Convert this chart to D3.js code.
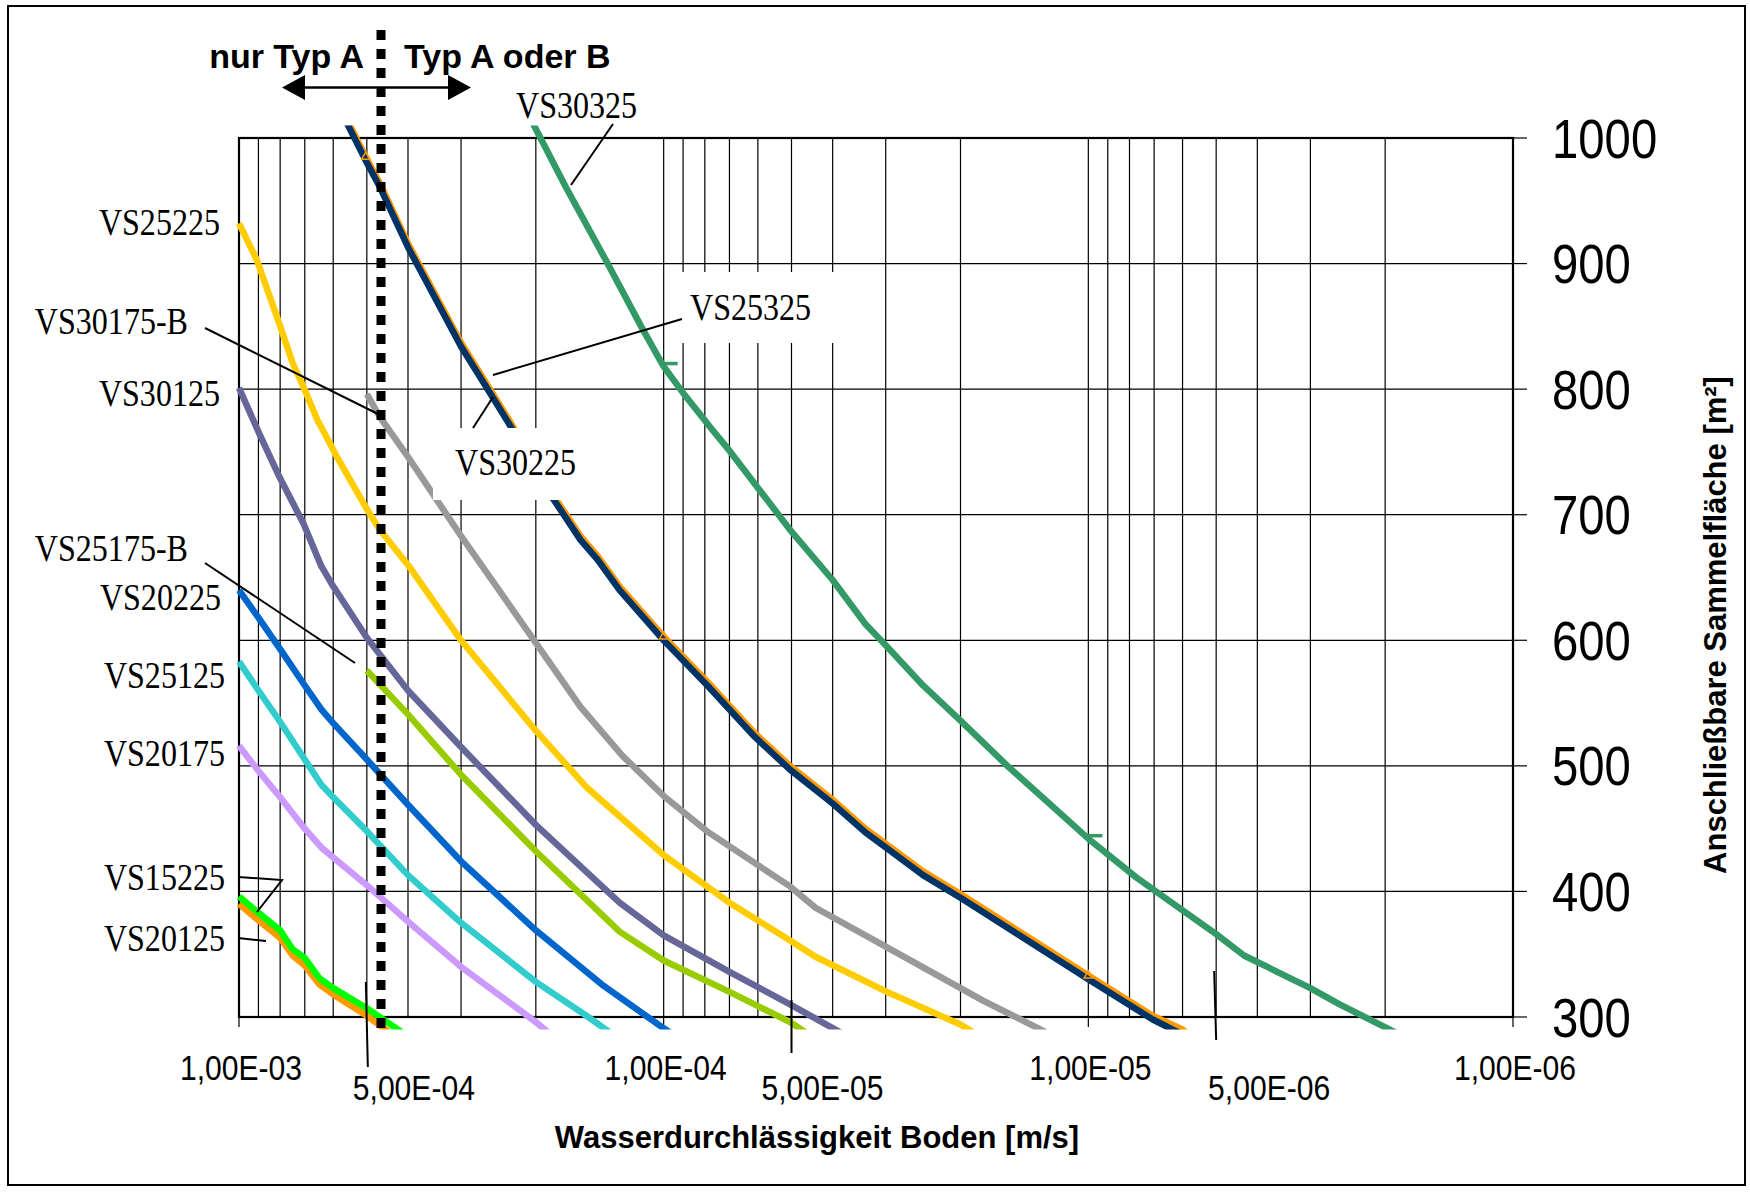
<!DOCTYPE html>
<html><head><meta charset="utf-8">
<script src="https://cdn.jsdelivr.net/npm/d3@7"></script>
<style>html,body{margin:0;padding:0;background:#fff;} svg{display:block;}</style>
</head><body>
<svg id="chart" width="1750" height="1192"></svg>
<script>
// ---------------- DATA ----------------
const xMajorTicks = [1e-3, 1e-4, 1e-5, 1e-6];
const xMajorLabels = ["1,00E-03", "1,00E-04", "1,00E-05", "1,00E-06"];
const xHalfTicks = [5e-4, 5e-5, 5e-6];
const xHalfLabels = ["5,00E-04", "5,00E-05", "5,00E-06"];
const yTicks = [300, 400, 500, 600, 700, 800, 900, 1000];
const yTickLabels = ["300", "400", "500", "600", "700", "800", "900", "1000"];
const boundaryK = 4.63e-4;   // Typ A / Typ B boundary

// [k (m/s), area (m²)]
const VS15225 = [[1e-3,396],[9e-4,383],[8e-4,369],[7.48e-4,354],[7e-4,347],[6.47e-4,331],[6e-4,323],[5e-4,307],[4.1e-4,287]];
const VS20125 = [[1e-3,390],[9e-4,377],[8e-4,363],[7.48e-4,349],[7e-4,341],[6.47e-4,326],[6e-4,318],[5e-4,301],[4.4e-4,287]];
const VS20175 = [[1e-3,516],[9e-4,496],[8e-4,475],[7e-4,450],[6.4e-4,435],[6e-4,427],[5e-4,405],[4e-4,376],[3e-4,340],[2e-4,296],[1.86e-4,287]];
const VS25125 = [[1e-3,583],[9e-4,560],[8e-4,535],[7e-4,505],[6.4e-4,485],[6e-4,475],[5e-4,448],[4e-4,413],[3e-4,375],[2e-4,328],[1.52e-4,301],[1.33e-4,287]];
const VS20225 = [[1e-3,640],[9e-4,618],[8e-4,593],[7e-4,564],[6.4e-4,545],[6e-4,534],[5e-4,505],[4e-4,469],[3e-4,424],[2e-4,369],[1.4e-4,326],[1e-4,291],[9.6e-5,287]];
const VS25175B = [[5e-4,576],[4e-4,541],[3e-4,493],[2e-4,432],[1.27e-4,368],[1e-4,345],[7e-5,320],[5.04e-5,296],[4.6e-5,287]];
const VS30125 = [[1e-3,801],[8.97e-4,765],[8.03e-4,730],[7.05e-4,693],[6.4e-4,659],[6e-4,643],[5e-4,602],[4e-4,560],[3e-4,515],[2e-4,453],[1.27e-4,391],[1e-4,365],[7e-5,336],[5.04e-5,310],[3.8e-5,287]];
const VS25225 = [[1e-3,932],[9.08e-4,903],[8.09e-4,855],[7.48e-4,821],[6.99e-4,799],[6.53e-4,775],[6.29e-4,765],[5.88e-4,746],[5.03e-4,706],[4.66e-4,688],[4e-4,660],[3e-4,600],[2e-4,528],[1.52e-4,483],[1e-4,429],[7e-5,391],[5.04e-5,361],[4.39e-5,348],[2.98e-5,320],[2e-5,294],[1.85e-5,287]];
const VS30175B = [[5e-4,796],[4.66e-4,778],[4e-4,746],[3e-4,683],[2e-4,598],[1.57e-4,547],[1.25e-4,508],[1e-4,476],[7.84e-5,447],[5.04e-5,404],[4.39e-5,387],[3e-5,356],[2e-5,323],[1.77e-5,313],[1.26e-5,288]];
const VS25325 = [[5.61e-4,1017],[5.03e-4,985],[4.66e-4,964],[4e-4,916],[3e-4,837],[2.5e-4,794],[2.28e-4,772],[1.84e-4,718],[1.57e-4,683],[1.43e-4,667],[1.27e-4,643],[1e-4,603],[7.84e-5,566],[6.1e-5,526],[5.04e-5,500],[4e-5,473],[3.35e-5,450],[3e-5,438],[2.45e-5,416],[2e-5,398],[1e-5,333],[7.05e-6,301],[6e-6,290],[5.8e-6,286]];
const VS30225 = [[5.61e-4,1014],[5.03e-4,982],[4.66e-4,961],[4e-4,913],[3e-4,834],[2.5e-4,791],[2.28e-4,769],[1.84e-4,715],[1.57e-4,680],[1.43e-4,664],[1.27e-4,640],[1e-4,600],[7.84e-5,563],[6.1e-5,523],[5.04e-5,497],[4e-5,470],[3.35e-5,447],[3e-5,435],[2.45e-5,413],[2e-5,395],[1e-5,330],[7.05e-6,298],[6e-6,286]];
const VS30325 = [[2.04e-4,1014],[2.02e-4,1010],[1.70e-4,961],[1.37e-4,903],[1.13e-4,850],[1e-4,818],[9e-5,797],[7.7e-5,768],[7e-5,751],[5.04e-5,688],[4e-5,648],[3.35e-5,613],[3e-5,596],[2.45e-5,564],[2e-5,536],[1.54e-5,499],[1e-5,442],[7.7e-6,411],[7e-6,401],[5e-6,366],[4.3e-6,349],[3e-6,323],[2.56e-6,310],[1.95e-6,290],[1.85e-6,286]];

const seriesNames  = ["VS20125","VS15225","VS20175","VS25125","VS20225","VS25175-B","VS30125","VS25225","VS30175-B","VS25325","VS30225","VS30325"];
const seriesData   = [VS20125, VS15225, VS20175, VS25125, VS20225, VS25175B, VS30125, VS25225, VS30175B, VS25325, VS30225, VS30325];
const seriesColors = ["#ff9900","#00ff00","#cc99ff","#33cccc","#0066cc","#99cc00","#666699","#ffcc00","#999999","#ff9900","#003366","#339966"];
const dashMarkersK = [1e-4, 1e-5];           // small dash markers on VS30325
const triMarkersK  = [5.03e-4, 1e-4, 1e-5];  // small triangle markers on VS25325

// ---------------- LAYOUT ----------------
const W = 1750, H = 1192;
const X0 = 239, X1 = 1513, Y0 = 138, Y1 = 1017;
const svg = d3.select("#chart");
const x = d3.scaleLog().domain([1e-3, 1e-6]).range([X0, X1]);
const y = d3.scaleLinear().domain([300, 1000]).range([Y1, Y0]);
const clipRange = [290, 1010];
const SANS = "'Liberation Sans', Arial, sans-serif";
const SERIF = "'Liberation Serif', 'Times New Roman', serif";

function txt(str, tx, ty, o) {
  const g = svg.append("g").attr("transform",
    `translate(${tx},${ty})` + (o.rot ? ` rotate(${o.rot})` : "") + ` scale(${o.sx || 1},1)`);
  g.append("text").text(str)
    .attr("x", 0).attr("y", 0)
    .attr("font-family", o.family || SANS)
    .attr("font-size", o.size)
    .attr("font-weight", o.weight || "normal")
    .attr("text-anchor", o.anchor || "start")
    .attr("fill", "#000");
  return g;
}

svg.append("rect").attr("width", W).attr("height", H).attr("fill", "#fff");
// outer border
svg.append("rect").attr("x", 8).attr("y", 6).attr("width", 1737).attr("height", 1179)
  .attr("fill", "none").attr("stroke", "#000").attr("stroke-width", 2);

// gridlines: every 1..9 × decade on the log axis, every 100 on the area axis
const grid = svg.append("g").attr("stroke", "#000").attr("stroke-width", 1.2);
const vLines = [];
[-4, -5, -6].forEach(e => { for (let m = 1; m <= 9; m++) vLines.push(m * Math.pow(10, e)); });
vLines.push(1e-3);
vLines.forEach(k => {
  grid.append("line").attr("x1", x(k)).attr("x2", x(k)).attr("y1", Y0).attr("y2", Y1);
});
yTicks.forEach(v => {
  grid.append("line").attr("x1", X0).attr("x2", X1).attr("y1", y(v)).attr("y2", y(v));
});

// frame
svg.append("rect").attr("x", X0).attr("y", Y0).attr("width", X1 - X0).attr("height", Y1 - Y0)
  .attr("fill", "none").attr("stroke", "#000").attr("stroke-width", 2.2);
// right axis ticks
yTicks.forEach(v => {
  svg.append("line").attr("x1", X1).attr("x2", X1 + 14).attr("y1", y(v)).attr("y2", y(v))
    .attr("stroke", "#000").attr("stroke-width", 1.2);
});
// bottom decade ticks
xMajorTicks.forEach(k => {
  svg.append("line").attr("x1", x(k)).attr("x2", x(k)).attr("y1", Y1).attr("y2", Y1 + 10)
    .attr("stroke", "#000").attr("stroke-width", 1.2);
});

// clip
svg.append("defs").append("clipPath").attr("id", "plotClip").append("rect")
  .attr("x", 0).attr("y", y(clipRange[1])).attr("width", X1 + 5)
  .attr("height", y(clipRange[0]) - y(clipRange[1]));

const line = d3.line().x(d => x(d[0])).y(d => y(d[1]));
const lines = svg.append("g").attr("clip-path", "url(#plotClip)");
seriesData.forEach((data, i) => {
  lines.append("path").datum(data).attr("d", line)
    .attr("fill", "none").attr("stroke", seriesColors[i]).attr("stroke-width", 6.5)
    .attr("stroke-linejoin", "round").attr("stroke-linecap", "butt");
});
// markers
dashMarkersK.forEach(k => {
  const p = VS30325.find(d => d[0] === k);
  svg.append("line").attr("x1", x(p[0]) - 2).attr("x2", x(p[0]) + 14)
    .attr("y1", y(p[1]) - 3).attr("y2", y(p[1]) - 3)
    .attr("stroke", "#339966").attr("stroke-width", 3.5);
});
triMarkersK.forEach(k => {
  const p = VS25325.find(d => d[0] === k);
  svg.append("path").attr("d", d3.symbol(d3.symbolTriangle, 30)())
    .attr("transform", `translate(${x(p[0])},${y(p[1])})`)
    .attr("fill", "none").attr("stroke", "#ff9900").attr("stroke-width", 1.5);
});

// half-decade leader lines for the x labels
const halfLeaders = [[-1, 982, 1, 1067], [0, 1000, 0, 1053], [-2, 971, 0, 1040]];
xHalfTicks.forEach((k, i) => {
  const L = halfLeaders[i];
  svg.append("line").attr("x1", x(k) + L[0]).attr("y1", L[1]).attr("x2", x(k) + L[2]).attr("y2", L[3])
    .attr("stroke", "#000").attr("stroke-width", 2);
});

// x tick labels
xMajorTicks.forEach((k, i) => txt(xMajorLabels[i], x(k) + 2, 1080, {size: 35, sx: 0.86, anchor: "middle"}));
const halfLabelDx = [47, 31, 53];
xHalfTicks.forEach((k, i) => txt(xHalfLabels[i], x(k) + halfLabelDx[i], 1100, {size: 35, sx: 0.86, anchor: "middle"}));
// y tick labels
yTicks.forEach((v, i) => txt(yTickLabels[i], 1552, y(v) + 19.5, {size: 55, sx: 0.86}));
// axis titles
txt("Wasserdurchlässigkeit Boden [m/s]", 817, 1148, {size: 31, weight: "bold", anchor: "middle"});
txt("Anschließbare Sammelfläche [m²]", 1726, 625, {size: 31, weight: "bold", anchor: "middle", rot: -90});

// series labels
const labelSpec = [
  {t: "VS25225",   x: 220, y: 235, a: "end"},
  {t: "VS30175-B", x: 188, y: 334, a: "end", lead: [[205,328],[380,415]]},
  {t: "VS30125",   x: 220, y: 406, a: "end"},
  {t: "VS25175-B", x: 188, y: 561, a: "end", lead: [[205,563],[355,663]]},
  {t: "VS20225",   x: 221, y: 610, a: "end"},
  {t: "VS25125",   x: 225, y: 688, a: "end"},
  {t: "VS20175",   x: 225, y: 766, a: "end"},
  {t: "VS15225",   x: 225, y: 890, a: "end", lead: [[238,877],[282,880],[257,912]]},
  {t: "VS20125",   x: 225, y: 951, a: "end", lead: [[238,938],[266,941]]},
  {t: "VS30325",   x: 516, y: 118, a: "start", lead: [[613,124],[571,185]]},
  {t: "VS25325",   x: 690, y: 320, a: "start", lead: [[682,319],[493,375]], box: [670,272,166,71]},
  {t: "VS30225",   x: 455, y: 475, a: "start", lead: [[473,428],[493,397]], box: [433,428,167,72]}
];
labelSpec.forEach(s => {
  if (s.box) svg.append("rect").attr("x", s.box[0]).attr("y", s.box[1]).attr("width", s.box[2]).attr("height", s.box[3]).attr("fill", "#fff");
});
labelSpec.forEach(s => {
  txt(s.t, s.x, s.y, {size: 37.5, family: SERIF, sx: 0.855, anchor: s.a});
  if (s.lead) svg.append("path").attr("d", d3.line()(s.lead)).attr("fill", "none")
    .attr("stroke", "#000").attr("stroke-width", 2);
});

// Typ A / B boundary
const bx = x(boundaryK);
svg.append("line").attr("x1", bx).attr("x2", bx).attr("y1", 30).attr("y2", 1033)
  .attr("stroke", "#000").attr("stroke-width", 9).attr("stroke-dasharray", "10,9");
txt("nur Typ A", bx - 17, 68, {size: 34, weight: "bold", anchor: "end"});
txt("Typ A oder B", bx + 23, 68, {size: 34, weight: "bold", anchor: "start"});
const ay = 87.5, axL = bx - 99, axR = bx + 90;
svg.append("line").attr("x1", axL + 20).attr("x2", axR - 20).attr("y1", ay).attr("y2", ay)
  .attr("stroke", "#000").attr("stroke-width", 2.7);
svg.append("path").attr("d", `M${axL},${ay} L${axL + 23},${ay - 12.5} L${axL + 23},${ay + 12.5} Z`).attr("fill", "#000");
svg.append("path").attr("d", `M${axR},${ay} L${axR - 23},${ay - 12.5} L${axR - 23},${ay + 12.5} Z`).attr("fill", "#000");
</script>
</body></html>
